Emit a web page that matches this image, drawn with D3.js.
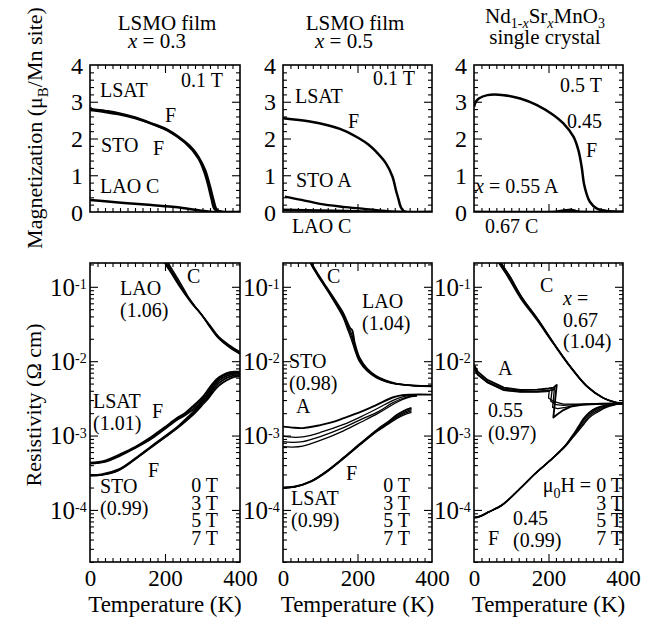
<!DOCTYPE html>
<html><head><meta charset="utf-8">
<script src="https://cdn.jsdelivr.net/npm/d3@7"></script>
<style>
body{margin:0;background:#fff}
svg{display:block}
svg text{font-family:"Liberation Serif","Times New Roman",serif;fill:#000}
</style>
</head><body>
<svg id="c" width="652" height="619"></svg>
<script>
// ---------------- DATA ----------------
const tempTicks = [0, 200, 400];
const magTicks = [0, 1, 2, 3, 4];
const rhoDecades = [-4, -3, -2, -1];
const fields = ["0 T", "3 T", "5 T", "7 T"];

// Magnetization (muB/Mn site) vs T (K)
const magLSAT03 = [[0,2.84],[5,2.80],[40,2.75],[75,2.69],[120,2.57],[164,2.41],[208,2.23],[253,1.91],[275,1.70],[289,1.50],[307,1.14],[320,0.69],[329,0.33],[338,0.06],[350,0.01],[400,0]];
const magSTO03  = [[0,2.77],[40,2.72],[75,2.66],[120,2.55],[164,2.40],[208,2.21],[253,1.89],[289,1.46],[305,1.08],[316,0.69],[324,0.35],[332,0.08],[345,0.01],[400,0]];
const magLAO03  = [[0,0.33],[40,0.29],[100,0.24],[164,0.19],[220,0.14],[253,0.10],[289,0.05],[320,0.01],[400,0]];
const magLSAT05 = [[0,2.55],[72,2.46],[120,2.36],[161,2.23],[205,2.00],[230,1.83],[250,1.64],[276,1.33],[294,0.96],[303,0.60],[310,0.35],[316,0.14],[325,0.02],[400,0]];
const magSTO05  = [[5,0.42],[50,0.33],[99,0.22],[161,0.14],[223,0.08],[280,0.02],[320,0],[400,0]];
const magLAO05  = [[0,0.06],[100,0.04],[200,0.02],[260,0],[400,0]];
const magNd045  = [[0,2.86],[5,3.00],[13,3.09],[36,3.18],[80,3.18],[124,3.09],[169,2.91],[213,2.64],[240,2.41],[267,2.05],[280,1.69],[289,1.23],[295,0.78],[302,0.50],[311,0.28],[329,0.10],[356,0.03],[400,0.01]];
const magNd055  = [[0,0],[220,0.01],[245,0.05],[262,0.06],[278,0.02],[295,0],[400,0]];
const magNd067  = [[0,0],[400,0]];

// Resistivity (Ohm cm) vs T (K): four fields 0,3,5,7 T
const rhoLAO03 = [
 [[185,0.32],[200,0.21],[220,0.145],[240,0.100],[258,0.074],[275,0.057],[293,0.045],[320,0.030],[342,0.0215],[370,0.0165],[400,0.0132]],
 [[188,0.32],[203,0.21],[222,0.145],[242,0.100],[260,0.073],[277,0.056],[295,0.044],[320,0.0295],[342,0.0212],[370,0.0162],[400,0.0130]],
 [[191,0.32],[206,0.21],[225,0.145],[244,0.100],[262,0.072],[279,0.055],[296,0.043],[320,0.029],[342,0.0208],[370,0.0158],[400,0.0127]],
 [[194,0.32],[209,0.21],[228,0.145],[247,0.100],[264,0.071],[281,0.054],[298,0.042],[320,0.0285],[342,0.0204],[370,0.0155],[400,0.0124]]
];
const rhoLSAT03 = [
 [[0,4.3e-4],[40,4.6e-4],[80,5.6e-4],[120,7.0e-4],[160,9.3e-4],[190,1.2e-3],[210,1.42e-3],[230,1.7e-3],[253,2.0e-3],[275,2.5e-3],[298,3.2e-3],[316,4.2e-3],[330,5.2e-3],[345,6.1e-3],[365,6.9e-3],[385,7.2e-3],[400,7.2e-3]],
 [[0,4.25e-4],[40,4.5e-4],[80,5.5e-4],[120,6.9e-4],[160,9.1e-4],[190,1.17e-3],[210,1.39e-3],[230,1.66e-3],[253,1.95e-3],[275,2.4e-3],[298,3.0e-3],[316,3.8e-3],[330,4.7e-3],[345,5.6e-3],[365,6.4e-3],[385,6.8e-3],[400,6.9e-3]],
 [[0,4.2e-4],[40,4.45e-4],[80,5.4e-4],[120,6.8e-4],[160,8.9e-4],[190,1.15e-3],[210,1.36e-3],[230,1.62e-3],[253,1.9e-3],[275,2.3e-3],[298,2.85e-3],[316,3.5e-3],[330,4.3e-3],[345,5.2e-3],[365,6.0e-3],[385,6.5e-3],[400,6.6e-3]],
 [[0,4.15e-4],[40,4.4e-4],[80,5.3e-4],[120,6.7e-4],[160,8.7e-4],[190,1.12e-3],[210,1.33e-3],[230,1.58e-3],[253,1.85e-3],[275,2.2e-3],[298,2.7e-3],[316,3.3e-3],[330,4.0e-3],[345,4.8e-3],[365,5.6e-3],[385,6.2e-3],[400,6.3e-3]]
];
const rhoSTO03 = [
 [[0,2.95e-4],[30,3.0e-4],[76,3.5e-4],[120,4.9e-4],[164,7.2e-4],[200,9.8e-4],[236,1.35e-3],[260,1.75e-3],[280,2.2e-3],[298,2.9e-3],[316,3.9e-3],[330,4.9e-3],[345,5.9e-3],[365,6.7e-3],[385,7.0e-3],[400,7.0e-3]],
 [[0,2.92e-4],[30,2.97e-4],[76,3.45e-4],[120,4.85e-4],[164,7.1e-4],[200,9.6e-4],[236,1.32e-3],[260,1.7e-3],[280,2.1e-3],[298,2.7e-3],[316,3.6e-3],[330,4.5e-3],[345,5.5e-3],[365,6.3e-3],[385,6.7e-3],[400,6.8e-3]],
 [[0,2.9e-4],[30,2.95e-4],[76,3.4e-4],[120,4.8e-4],[164,7.0e-4],[200,9.5e-4],[236,1.3e-3],[260,1.66e-3],[280,2.05e-3],[298,2.6e-3],[316,3.35e-3],[330,4.2e-3],[345,5.1e-3],[365,5.9e-3],[385,6.4e-3],[400,6.5e-3]],
 [[0,2.88e-4],[30,2.93e-4],[76,3.38e-4],[120,4.75e-4],[164,6.9e-4],[200,9.4e-4],[236,1.28e-3],[260,1.62e-3],[280,2.0e-3],[298,2.5e-3],[316,3.15e-3],[330,3.9e-3],[345,4.7e-3],[365,5.5e-3],[385,6.1e-3],[400,6.2e-3]]
];
const rhoLAO05 = [
 [[68,0.26],[76,0.21],[95,0.145],[116,0.100],[140,0.066],[161,0.045],[172,0.034],[180,0.028],[186,0.026],[192,0.018],[205,0.0112],[225,0.0080],[250,0.0063],[275,0.0055],[303,0.0050],[350,0.0047],[400,0.0046]],
 [[68,0.255],[76,0.205],[95,0.142],[116,0.098],[140,0.064],[161,0.043],[172,0.032],[180,0.026],[186,0.022],[192,0.0165],[205,0.0107],[225,0.0078],[250,0.0062],[275,0.0054],[303,0.0050],[350,0.0047],[400,0.0046]],
 [[68,0.25],[76,0.20],[95,0.139],[116,0.096],[140,0.062],[161,0.041],[172,0.030],[180,0.024],[186,0.020],[192,0.0155],[205,0.0103],[225,0.0076],[250,0.0061],[275,0.0054],[303,0.0050],[350,0.0047],[400,0.0046]],
 [[68,0.245],[76,0.196],[95,0.136],[116,0.094],[140,0.060],[161,0.039],[172,0.028],[180,0.022],[186,0.018],[192,0.0145],[205,0.0099],[225,0.0074],[250,0.0060],[275,0.0053],[303,0.0049],[350,0.0047],[400,0.0046]]
];
const rhoSTO05 = [
 [[0,1.32e-3],[25,1.28e-3],[53,1.26e-3],[100,1.38e-3],[130,1.5e-3],[161,1.7e-3],[210,2.1e-3],[250,2.57e-3],[294,3.25e-3],[320,3.5e-3],[345,3.55e-3],[400,3.55e-3]],
 [[0,9.8e-4],[25,9.5e-4],[53,9.6e-4],[100,1.1e-3],[161,1.4e-3],[210,1.8e-3],[256,2.35e-3],[294,2.95e-3],[320,3.3e-3],[345,3.45e-3],[360,3.5e-3]],
 [[0,8.3e-4],[25,8.1e-4],[53,8.3e-4],[100,9.7e-4],[161,1.27e-3],[210,1.65e-3],[256,2.1e-3],[294,2.75e-3],[320,3.15e-3],[345,3.4e-3],[360,3.45e-3]],
 [[0,7.1e-4],[25,7.0e-4],[53,7.2e-4],[100,8.6e-4],[161,1.15e-3],[210,1.52e-3],[256,2.0e-3],[294,2.6e-3],[320,3.05e-3],[345,3.35e-3],[360,3.4e-3]]
];
const rhoLSAT05 = [
 [[0,2.0e-4],[30,2.05e-4],[76,2.45e-4],[120,3.4e-4],[164,5.1e-4],[210,8.0e-4],[253,1.2e-3],[280,1.5e-3],[306,1.9e-3],[325,2.15e-3],[345,2.35e-3]],
 [[0,2.0e-4],[30,2.05e-4],[76,2.45e-4],[120,3.4e-4],[164,5.1e-4],[210,7.9e-4],[253,1.18e-3],[280,1.46e-3],[306,1.82e-3],[325,2.05e-3],[345,2.25e-3]],
 [[0,1.98e-4],[30,2.03e-4],[76,2.42e-4],[120,3.35e-4],[164,5.0e-4],[210,7.8e-4],[253,1.16e-3],[280,1.43e-3],[306,1.76e-3],[325,1.98e-3],[345,2.15e-3]],
 [[0,1.97e-4],[30,2.02e-4],[76,2.4e-4],[120,3.3e-4],[164,4.95e-4],[210,7.7e-4],[253,1.14e-3],[280,1.4e-3],[306,1.7e-3],[325,1.9e-3],[345,2.05e-3]]
];
const rhoNd067 = [
 [[58,0.26],[67,0.21],[90,0.14],[125,0.071],[169,0.036],[213,0.0174],[258,0.0085],[303,0.0046],[347,0.0032],[380,0.0028],[400,0.0027]],
 [[62,0.26],[71,0.21],[94,0.14],[128,0.071],[171,0.036],[214,0.0172],[258,0.0084],[303,0.0046],[347,0.0032],[380,0.0028],[400,0.0027]],
 [[63,0.26],[72,0.21],[95,0.14],[129,0.071],[172,0.036],[215,0.0171],[259,0.0084],[303,0.0046],[347,0.0032],[380,0.0028],[400,0.0027]],
 [[64,0.26],[73,0.21],[96,0.14],[130,0.071],[173,0.036],[216,0.017],[260,0.0083],[303,0.0046],[347,0.0032],[380,0.0028],[400,0.0027]]
];
const rhoNd055 = [
 [[0,8.9e-3],[10,7.2e-3],[36,5.6e-3],[80,4.4e-3],[124,4.1e-3],[169,4.15e-3],[200,4.3e-3],[213,4.4e-3],[222,4.8e-3],[213,1.75e-3],[225,1.95e-3],[240,2.2e-3],[260,2.45e-3],[290,2.6e-3],[340,2.68e-3],[400,2.7e-3]],
 [[0,8.2e-3],[10,6.7e-3],[36,5.3e-3],[80,4.2e-3],[124,3.95e-3],[169,3.95e-3],[200,4.05e-3],[212,4.1e-3],[216,4.35e-3],[211,2.4e-3],[225,2.3e-3],[245,2.4e-3],[270,2.55e-3],[300,2.63e-3],[350,2.68e-3],[400,2.7e-3]],
 [[0,8.0e-3],[10,6.6e-3],[36,5.2e-3],[80,4.1e-3],[124,3.9e-3],[169,3.9e-3],[200,3.98e-3],[207,4.05e-3],[210,4.2e-3],[206,2.9e-3],[220,2.6e-3],[240,2.55e-3],[270,2.6e-3],[320,2.67e-3],[400,2.7e-3]],
 [[0,7.9e-3],[10,6.5e-3],[36,5.15e-3],[80,4.05e-3],[124,3.85e-3],[169,3.85e-3],[195,3.9e-3],[202,4.0e-3],[200,3.2e-3],[215,2.85e-3],[240,2.65e-3],[280,2.65e-3],[400,2.7e-3]]
];
const rhoNd045 = [
 [[0,7.9e-5],[13,8.1e-5],[40,9.4e-5],[76,1.17e-4],[120,1.86e-4],[165,3.1e-4],[210,4.9e-4],[246,7.4e-4],[265,1.0e-3],[280,1.3e-3],[295,1.7e-3],[310,2.05e-3],[330,2.35e-3],[355,2.55e-3],[380,2.67e-3],[400,2.7e-3]],
 [[0,7.9e-5],[13,8.1e-5],[40,9.4e-5],[76,1.17e-4],[120,1.86e-4],[165,3.1e-4],[210,4.9e-4],[246,7.4e-4],[265,9.8e-4],[280,1.25e-3],[295,1.6e-3],[310,1.95e-3],[330,2.25e-3],[355,2.5e-3],[380,2.65e-3],[400,2.7e-3]],
 [[0,7.9e-5],[13,8.1e-5],[40,9.4e-5],[76,1.17e-4],[120,1.86e-4],[165,3.1e-4],[210,4.9e-4],[246,7.3e-4],[265,9.6e-4],[280,1.2e-3],[295,1.5e-3],[310,1.85e-3],[330,2.15e-3],[355,2.45e-3],[380,2.63e-3],[400,2.7e-3]],
 [[0,7.9e-5],[13,8.1e-5],[40,9.4e-5],[76,1.17e-4],[120,1.86e-4],[165,3.1e-4],[210,4.9e-4],[246,7.2e-4],[265,9.4e-4],[280,1.15e-3],[295,1.42e-3],[310,1.75e-3],[330,2.05e-3],[355,2.4e-3],[380,2.6e-3],[400,2.7e-3]]
];

// ---------------- LAYOUT ----------------
const cols = [[90,240],[283,432],[474,623]];
const topRow = [212,65], botRow = [562,263];
const FONT_TICK = 23, FONT_MAGTICK = 24, FONT_DEC = 25, FONT_LBL = 20;

const svg = d3.select("#c");
const xScales = cols.map(c => d3.scaleLinear().domain([0,400]).range(c));
const yMag = d3.scaleLinear().domain([0,4]).range(topRow);
const yRho = d3.scaleLog().domain([Math.pow(10,-4.7), Math.pow(10,-0.68)]).range(botRow);

function rich(sel, parts){
  let off = 0;
  parts.forEach(p => {
    const d = p.dy || 0;
    const ts = sel.append("tspan").text(p.t).attr("dy", d - off);
    off = d;
    if (p.fs) ts.attr("font-size", p.fs);
    if (p.it) ts.attr("font-style", "italic");
  });
  return sel;
}

function drawTicks(x, y, isLog){
  const g = svg.append("g");
  const xr = x.range(), yr = y.range();
  const add = (axis, tr) => {
    const a = g.append("g").attr("transform", tr).call(axis);
    a.select(".domain").remove();
    a.selectAll("text").remove();
    a.selectAll("line").attr("stroke","#000").attr("stroke-width",1.1);
  };
  const xMin = d3.range(0,401,20).filter(v => v % 200 !== 0);
  const xMaj = [200];
  [[d3.axisBottom, yr[0]],[d3.axisTop, yr[1]]].forEach(([f,p]) => {
    add(f(x).tickValues(xMin).tickSize(-4), `translate(0,${p})`);
    add(f(x).tickValues(xMaj).tickSize(-8), `translate(0,${p})`);
  });
  let yMin, yMaj;
  if (isLog){
    yMaj = rhoDecades.map(d => Math.pow(10,d));
    yMin = [];
    [-5,-4,-3,-2,-1].forEach(d => { for (let m=2;m<=9;m++){ const v=m*Math.pow(10,d); if (v>y.domain()[0] && v<y.domain()[1]) yMin.push(v);} });
  } else {
    yMaj = [1,2,3];
    yMin = d3.range(0.2,4,0.2).filter(v => Math.abs(v-Math.round(v))>0.01);
  }
  [[d3.axisLeft, xr[0]],[d3.axisRight, xr[1]]].forEach(([f,p]) => {
    add(f(y).tickValues(yMin).tickSize(-4), `translate(${p},0)`);
    add(f(y).tickValues(yMaj).tickSize(-8), `translate(${p},0)`);
  });
}

const line = (x, y, curve) => d3.line().x(d => x(d[0])).y(d => y(d[1])).curve(curve || d3.curveCatmullRom.alpha(0.5));

const panels = [
  {c:0, top:true,  curves:[[magLAO03,2.5],[magSTO03,2.2],[magLSAT03,2.5]]},
  {c:1, top:true,  curves:[[magLAO05,2.5],[magSTO05,2.3],[magLSAT05,2.5]]},
  {c:2, top:true,  curves:[[magNd067,2.3],[magNd055,2.3],[magNd045,2.5]]},
  {c:0, top:false, groups:[rhoLAO03, rhoLSAT03, rhoSTO03]},
  {c:1, top:false, groups:[rhoLAO05, rhoSTO05, rhoLSAT05]},
  {c:2, top:false, groups:[rhoNd067, rhoNd055, rhoNd045], linear:[rhoNd055]}
];

panels.forEach((p,i) => {
  const x = xScales[p.c];
  const y = p.top ? yMag : yRho;
  const id = "clip"+i;
  svg.append("clipPath").attr("id",id).append("rect")
    .attr("x", x.range()[0]).attr("y", y.range()[1])
    .attr("width", x.range()[1]-x.range()[0]).attr("height", y.range()[0]-y.range()[1]);
  const g = svg.append("g").attr("clip-path",`url(#${id})`);
  if (p.top){
    p.curves.forEach(([d,w]) => g.append("path").attr("d", line(x,y)(d)).attr("fill","none").attr("stroke","#000").attr("stroke-width",w).attr("stroke-linejoin","round"));
  } else {
    p.groups.forEach(grp => {
      const lin = p.linear && p.linear.includes(grp);
      grp.forEach((d,k) => g.append("path").attr("d", line(x,y, lin ? d3.curveLinear : null)(d))
        .attr("fill","none").attr("stroke","#000").attr("stroke-width", k===0 ? 1.9 : 1.3).attr("stroke-linejoin","round"));
    });
  }
  drawTicks(x, y, !p.top);
  svg.append("rect").attr("x", x.range()[0]).attr("y", y.range()[1])
    .attr("width", x.range()[1]-x.range()[0]).attr("height", y.range()[0]-y.range()[1])
    .attr("fill","none").attr("stroke","#000").attr("stroke-width",1.6);

  // tick labels
  if (p.top){
    magTicks.forEach(v => svg.append("text").attr("x", x.range()[0]-7).attr("y", y(v)).attr("dy","0.36em")
      .attr("text-anchor","end").attr("font-size",FONT_MAGTICK).text(v));
  } else {
    rhoDecades.forEach(d => {
      svg.append("text").attr("x", x.range()[0]-15).attr("y", y(Math.pow(10,d))).attr("dy","0.35em")
        .attr("text-anchor","end").attr("font-size",FONT_DEC).text("10");
      svg.append("text").attr("x", x.range()[0]-15).attr("y", y(Math.pow(10,d))+2)
        .attr("font-size",14).text(String(d));
    });
    const gx = svg.append("g").attr("transform",`translate(0,${y.range()[0]})`)
      .call(d3.axisBottom(x).tickValues(tempTicks).tickSize(0).tickPadding(8));
    gx.select(".domain").remove();
    gx.attr("font-family",null).attr("font-size",null);
    gx.selectAll("text").attr("font-size",FONT_TICK).attr("dy","0.71em");
    svg.append("text").attr("x", d3.mean(x.range())).attr("y", 612).attr("text-anchor","middle")
      .attr("font-size",23).text("Temperature (K)");
  }
});

// Axis titles
rich(svg.append("text").attr("transform","translate(42,128) rotate(-90)").attr("text-anchor","middle").attr("font-size",22),
  [{t:"Magnetization (\u03bc"},{t:"B",dy:6,fs:15},{t:"/Mn site)",dy:0}]);
svg.append("text").attr("transform","translate(41,405) rotate(-90)").attr("text-anchor","middle").attr("font-size",22)
  .text("Resistivity (\u03a9 cm)");

// Column titles
svg.append("text").attr("x",167).attr("y",30).attr("text-anchor","middle").attr("font-size",21).text("LSMO film");
rich(svg.append("text").attr("x",157).attr("y",48).attr("text-anchor","middle").attr("font-size",21),[{t:"x",it:true},{t:" = 0.3"}]);
svg.append("text").attr("x",355).attr("y",30).attr("text-anchor","middle").attr("font-size",21).text("LSMO film");
rich(svg.append("text").attr("x",344).attr("y",48).attr("text-anchor","middle").attr("font-size",21),[{t:"x",it:true},{t:" = 0.5"}]);
rich(svg.append("text").attr("x",545).attr("y",23).attr("text-anchor","middle").attr("font-size",21),
  [{t:"Nd"},{t:"1-",dy:5,fs:14},{t:"x",dy:5,fs:14,it:true},{t:"Sr",dy:0},{t:"x",dy:5,fs:14,it:true},{t:"MnO",dy:0},{t:"3",dy:5,fs:14}]);
svg.append("text").attr("x",545).attr("y",44).attr("text-anchor","middle").attr("font-size",21).text("single crystal");

// Annotations [x, y, parts, anchor]
const notes = [
  [181,87,[{t:"0.1 T"}]],[100,97,[{t:"LSAT"}]],[165,122,[{t:"F"}]],[101,152,[{t:"STO"}]],[153,155,[{t:"F"}]],[100,193,[{t:"LAO C"}]],
  [373,85,[{t:"0.1 T"}]],[295,103,[{t:"LSAT"}]],[348,128,[{t:"F"}]],[296,187,[{t:"STO A"}]],[292,233,[{t:"LAO C"}]],
  [560,92,[{t:"0.5 T"}]],[567,128,[{t:"0.45"}]],[586,157,[{t:"F"}]],[475,193,[{t:"x",it:true},{t:" = 0.55 A"}]],[485,233,[{t:"0.67 C"}]],
  [187,283,[{t:"C"}]],[120,295,[{t:"LAO"}]],[120,317,[{t:"(1.06)"}]],[93,408,[{t:"LSAT"}]],[93,430,[{t:"(1.01)"}]],[152,418,[{t:"F"}]],
  [148,477,[{t:"F"}]],[100,493,[{t:"STO"}]],[100,515,[{t:"(0.99)"}]],
  [327,283,[{t:"C"}]],[362,308,[{t:"LAO"}]],[362,330,[{t:"(1.04)"}]],[289,368,[{t:"STO"}]],[289,390,[{t:"(0.98)"}]],[296,413,[{t:"A"}]],
  [346,480,[{t:"F"}]],[291,505,[{t:"LSAT"}]],[291,527,[{t:"(0.99)"}]],
  [540,292,[{t:"C"}]],[563,305,[{t:"x",it:true},{t:" ="}]],[563,327,[{t:"0.67"}]],[563,348,[{t:"(1.04)"}]],[498,375,[{t:"A"}]],
  [488,417,[{t:"0.55"}]],[488,440,[{t:"(0.97)"}]],[513,525,[{t:"0.45"}]],[513,547,[{t:"(0.99)"}]],[488,545,[{t:"F"}]],
  [623,492,[{t:"\u03bc"},{t:"0",dy:6,fs:14},{t:"H = 0 T",dy:0}],"end"]
];
notes.forEach(([x,y,parts,anc]) => rich(svg.append("text").attr("x",x).attr("y",y).attr("font-size",FONT_LBL).attr("text-anchor",anc||"start"), parts));

// Field lists
const fieldCols = [[218,1],[410,1],[623,0]];
fieldCols.forEach(([xe,withFirst]) => {
  fields.forEach((f,k) => {
    if (!withFirst && k===0) return;
    svg.append("text").attr("x",xe).attr("y",492+k*17.7).attr("text-anchor","end").attr("font-size",FONT_LBL).text(f);
  });
});
</script>
</body></html>
